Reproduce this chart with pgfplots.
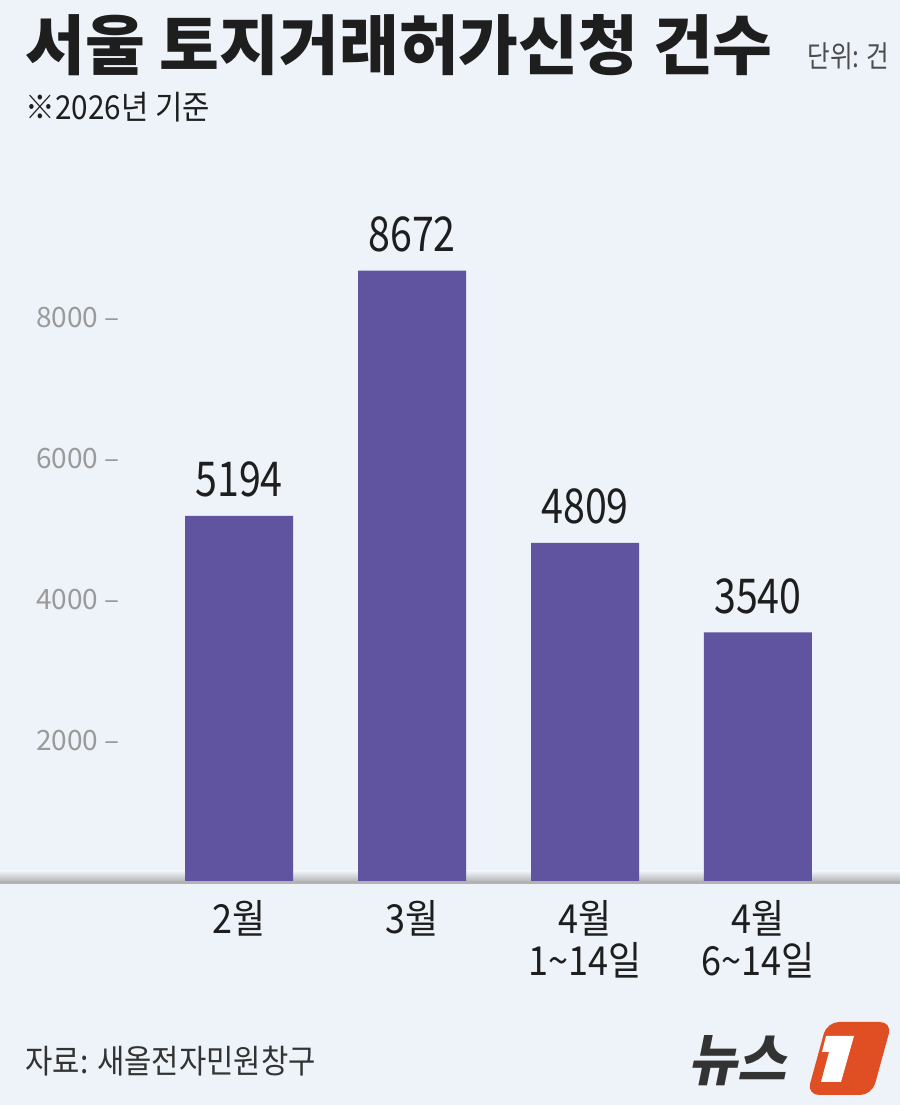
\documentclass[border=0pt]{standalone}
\usepackage{fontspec}
\usepackage{pgfplots}
\pgfplotsset{compat=1.18}
\setmainfont{Noto Sans CJK KR}
\newfontfamily\kr{Noto Sans CJK KR}
\newfontfamily\krc[FakeStretch=0.82]{Noto Sans CJK KR}
\newfontfamily\krm[FakeStretch=0.9]{Noto Sans CJK KR}
\newfontfamily\krt[FakeStretch=1.0]{Noto Sans CJK KR}
\newfontfamily\krs[FakeStretch=0.95,FakeSlant=0.2]{Noto Sans CJK KR}

\definecolor{bg}{HTML}{EEF3F9}
\definecolor{barc}{HTML}{6053A0}
\definecolor{tickgray}{HTML}{9A9A9A}
\definecolor{txt}{HTML}{1E1E1E}
\definecolor{logoorange}{HTML}{E04E24}

\begin{document}
\begin{tikzpicture}
  \useasboundingbox (0,0) rectangle (450pt,552.5pt);
  \fill[bg] (0,0) rectangle (450pt,552.5pt);
  % shadow under the baseline
  \shade[top color=bg, bottom color=black!35] (0,110.5pt) rectangle (450pt,117pt);

  \begin{axis}[
    at={(0pt,111.5pt)}, anchor=south west,
    scale only axis, width=450pt, height=352.5pt,
    xmin=-1.382, xmax=3.821, ymin=0, ymax=10000,
    axis line style={draw=none}, tick style={draw=none},
    scaled y ticks=false,
    /pgf/number format/.cd, 1000 sep={}, assume math mode=true, /pgfplots/.cd,
    xtick={0,1,2,3},
    xticklabels={2월, 3월, {4월\\1\textasciitilde14일}, {4월\\6\textasciitilde14일}},
    xticklabel style={font=\krm\fontsize{20}{21}\selectfont, align=center,
      text=txt, anchor=north, inner sep=0pt, yshift=-5pt},
    ytick={2000,4000,6000,8000},
    yticklabels={2000 \textendash, 4000 \textendash, 6000 \textendash, 8000 \textendash},
    yticklabel style={font=\kr\fontsize{14}{14}\selectfont, text=tickgray,
      anchor=east, inner sep=0pt, xshift=60pt},
    ybar, bar width=54pt,
    nodes near coords,
    nodes near coords style={font=\krc\fontsize{24}{24}\selectfont, text=txt,
      anchor=south, inner sep=0pt, yshift=9pt},
  ]
    \addplot[fill=barc, draw=none] coordinates {(0,5194) (1,8672) (2,4809) (3,3540)};
  \end{axis}

  \draw[black!30, line width=1.2pt] (0,111.2pt) -- (450pt,111.2pt);

  \node[anchor=base west, inner sep=0pt, text=txt] at (12.5pt,517.5pt)
    {\krt\bfseries\fontsize{32.5}{32.5}\selectfont 서울 토지거래허가신청 건수};
  \node[anchor=base east, inner sep=0pt, text=black!70] at (445pt,518.5pt)
    {\krc\fontsize{15}{15}\selectfont 단위: 건};
  \node[anchor=base west, inner sep=0pt, text=txt] at (12.5pt,492.5pt)
    {\krm\fontsize{16.5}{16.5}\selectfont ※2026년 기준};
  \node[anchor=base west, inner sep=0pt, text=black!80] at (12.5pt,16pt)
    {\krm\fontsize{16.5}{16.5}\selectfont 자료: 새올전자민원창구};

  % logo
  \node[anchor=base west, inner sep=0pt, text=black!80] at (344pt,12.5pt)
    {\krs\bfseries\fontsize{28}{28}\selectfont 뉴스};
  \fill[logoorange, rounded corners=6pt] (403.5pt,5pt) -- (413.5pt,41.5pt) -- (446pt,41.5pt) -- (436pt,5pt) -- cycle;
  \fill[white] (413pt,34.5pt) -- (427pt,34.5pt) -- (420.5pt,11.5pt) -- (410.5pt,11.5pt)
    -- (414.5pt,26.5pt) -- (411pt,26.5pt) -- cycle;
\end{tikzpicture}
\end{document}
